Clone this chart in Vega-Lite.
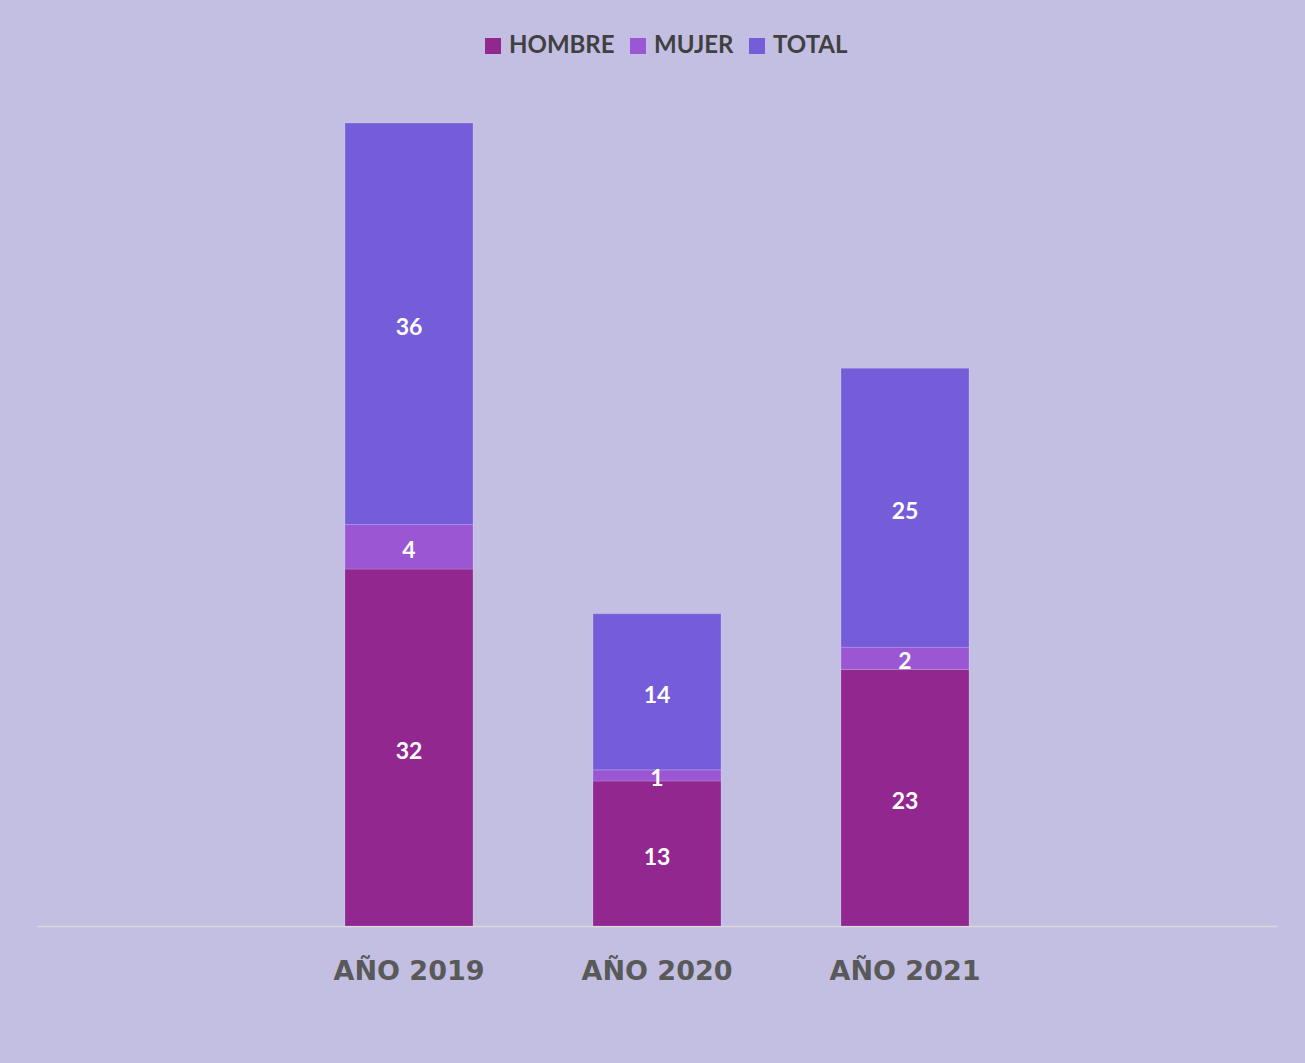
{
  "$schema": "https://vega.github.io/schema/vega-lite/v6.json",
  "autosize": {"type": "none"},
  "width": 1240,
  "height": 803,
  "padding": {"left": 37, "top": 123, "right": 28, "bottom": 137},
  "background": "#C3BFE2",
  "config": {"view": {"stroke": null}},
  "data": {
    "values": [
      {"year": "AÑO 2019", "serie": "HOMBRE", "value": 32},
      {"year": "AÑO 2019", "serie": "MUJER", "value": 4},
      {"year": "AÑO 2019", "serie": "TOTAL", "value": 36},
      {"year": "AÑO 2020", "serie": "HOMBRE", "value": 13},
      {"year": "AÑO 2020", "serie": "MUJER", "value": 1},
      {"year": "AÑO 2020", "serie": "TOTAL", "value": 14},
      {"year": "AÑO 2021", "serie": "HOMBRE", "value": 23},
      {"year": "AÑO 2021", "serie": "MUJER", "value": 2},
      {"year": "AÑO 2021", "serie": "TOTAL", "value": 25}
    ]
  },
  "encoding": {
    "x": {
      "field": "year",
      "type": "nominal",
      "scale": {"domain": ["_a", "AÑO 2019", "AÑO 2020", "AÑO 2021", "_b"], "paddingInner": 0.484, "paddingOuter": 0.242},
      "axis": {
        "title": null,
        "labelAngle": 0,
        "ticks": false,
        "labelExpr": "indexof(datum.label, '_') == 0 ? '' : datum.label",
        "domainColor": "#D9D9D9",
        "domainWidth": 1.5,
        "labelFont": "DejaVu Sans",
        "labelFontWeight": "bold",
        "labelFontSize": 27,
        "labelColor": "#595959",
        "labelPadding": 32,
        "labelBaseline": "top"
      }
    },
    "y": {
      "field": "value",
      "type": "quantitative",
      "stack": "zero",
      "scale": {"domain": [0, 72], "nice": false},
      "axis": null
    },
    "order": {"field": "serie", "sort": "ascending"}
  },
  "layer": [
    {
      "mark": {"type": "bar", "stroke": "#ffffff", "strokeOpacity": 0.15, "strokeWidth": 1},
      "encoding": {
        "color": {
          "field": "serie",
          "type": "nominal",
          "scale": {"domain": ["HOMBRE", "MUJER", "TOTAL"], "range": ["#92278F", "#9B57D3", "#755DD9"]},
          "legend": {
            "title": null,
            "orient": "none",
            "direction": "horizontal",
            "legendX": 444,
            "legendY": -89,
            "symbolType": "square",
            "symbolSize": 256,
            "symbolStrokeWidth": 0,
            "labelFont": "Lato",
            "labelFontWeight": "bold",
            "labelFontSize": 24,
            "labelColor": "#404040",
            "labelOffset": 4,
            "columnPadding": 11
          }
        }
      }
    },
    {
      "mark": {"type": "text", "color": "white", "font": "Lato", "fontWeight": "bold", "fontSize": 23, "baseline": "middle", "dy": 4},
      "encoding": {
        "y": {"field": "value", "type": "quantitative", "stack": "zero", "bandPosition": 0.5},
        "detail": {"field": "serie"},
        "text": {"field": "value", "type": "quantitative"}
      }
    }
  ]
}
